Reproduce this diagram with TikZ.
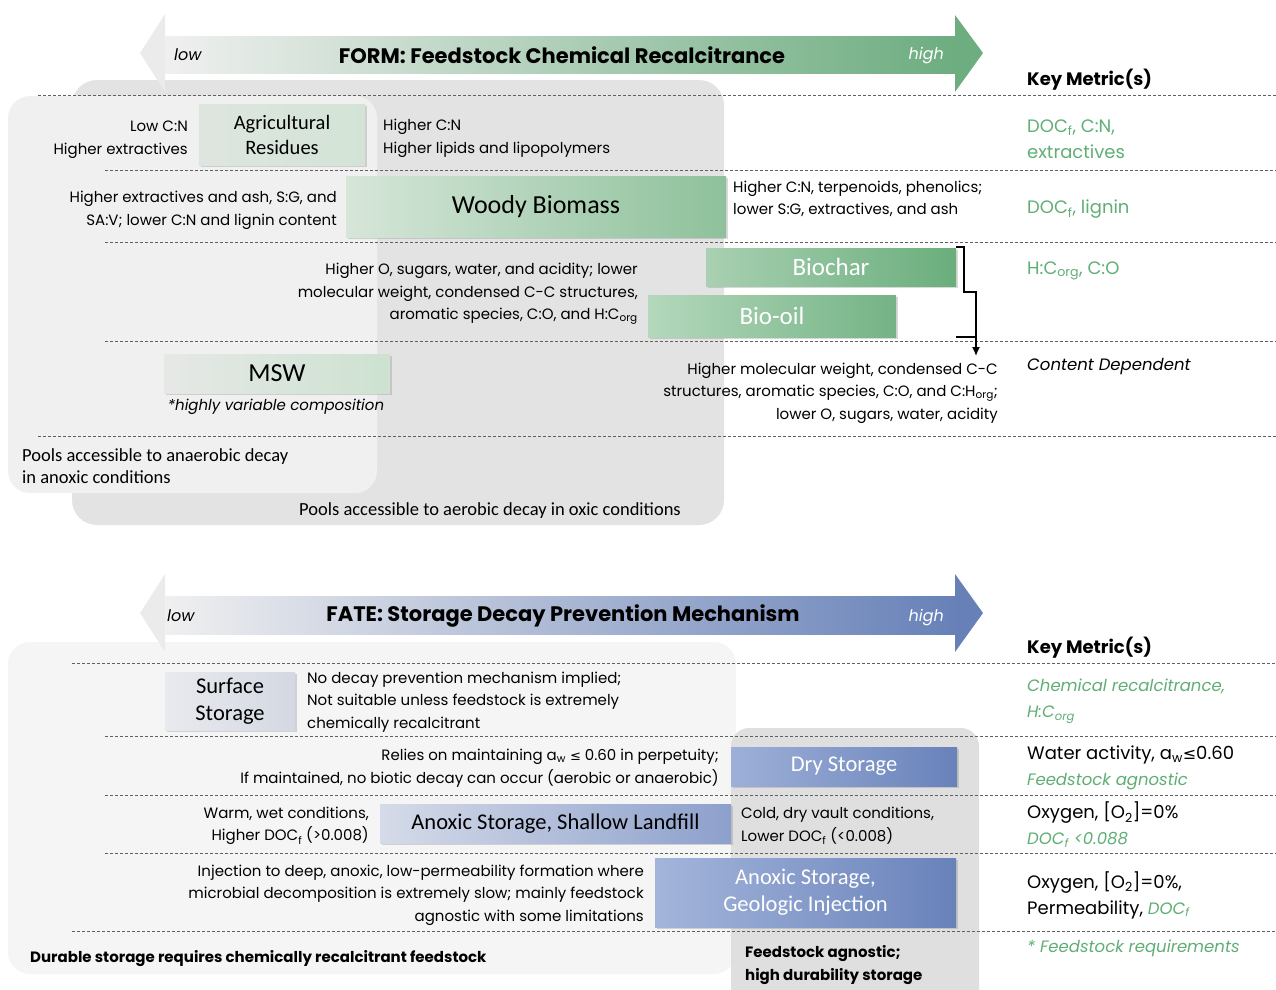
\documentclass[tikz,border=0pt]{standalone}
\usepackage{fontspec}
\setmainfont{Poppins}
\newfontfamily\calib{Carlito}
\newfontfamily\dv{DejaVu Sans}
\usetikzlibrary{shadows,arrows.meta}
\definecolor{kgreen}{HTML}{5FAE74}
\definecolor{agreen}{HTML}{6DAD80}
\definecolor{ablue}{HTML}{6781B8}
\definecolor{pdark}{HTML}{E3E3E3}
\definecolor{plight}{HTML}{F0F0F0}
\definecolor{bdark}{HTML}{DFDFDF}
\definecolor{blight}{HTML}{F5F5F5}
\definecolor{dashc}{HTML}{606060}
\definecolor{agl}{HTML}{DEE5DF}
\definecolor{agr}{HTML}{D3E4D6}
\definecolor{wdl}{HTML}{D6E6D9}
\definecolor{wdr}{HTML}{8EC19B}
\definecolor{bcl}{HTML}{A9D0B2}
\definecolor{bcr}{HTML}{6AAE7C}
\definecolor{bol}{HTML}{B4D8BC}
\definecolor{bor}{HTML}{74B385}
\definecolor{msl}{HTML}{E6E8E6}
\definecolor{msr}{HTML}{CDE2D1}
\definecolor{ssl}{HTML}{E9EAEE}
\definecolor{ssr}{HTML}{D3D8E2}
\definecolor{dsl}{HTML}{9EB0D8}
\definecolor{dsr}{HTML}{6882BA}
\definecolor{sll}{HTML}{D5DBE8}
\definecolor{slr}{HTML}{8DA0CC}
\definecolor{gil}{HTML}{A4B5DB}
\definecolor{gir}{HTML}{6882BA}
\newcommand{\bodyfont}{\fontsize{15}{22.5}\selectfont}
\newcommand{\keyfont}{\fontsize{18}{26}\selectfont}
\newcommand{\keyifont}{\fontsize{16.5}{26}\selectfont\itshape}
\newcommand{\sub}[1]{\textsubscript{#1}}
\tikzset{
 dline/.style={draw=dashc, line width=0.8pt, dash pattern=on 3pt off 2pt},
 box/.style={inner sep=0pt, align=center, drop shadow={opacity=0.3, shadow xshift=1.5pt, shadow yshift=-1.5pt}},
 txt/.style={inner sep=0pt, font=\bodyfont},
 ltxt/.style={txt, anchor=west, align=left},
 rtxt/.style={txt, anchor=east, align=right},
 key/.style={inner sep=0pt, anchor=west, align=left, font=\keyfont},
 keyi/.style={key, text=kgreen, font=\keyifont},
 pools/.style={inner sep=0pt, font=\calib\fontsize{18.5}{22.5}\selectfont},
 arrlbl/.style={inner sep=0pt, font=\fontsize{16}{20}\selectfont\itshape},
 arrtitle/.style={inner sep=0pt, font=\fontsize{21}{24}\selectfont\bfseries},
 bracketline/.style={line width=1.4pt, black},
}
\begin{document}
\begin{tikzpicture}[x=1pt,y=-1pt]
\useasboundingbox (0,0) rectangle (1276,989);

% ---------- panels (top) ----------
\fill[pdark, rounded corners=25pt] (72,80) rectangle (724,525);
\fill[plight, rounded corners=22pt] (8,96) rectangle (377,493);
% ---------- panels (bottom) ----------
\fill[blight, rounded corners=22pt] (8,642) rectangle (736,974);
\fill[bdark, rounded corners=18pt] (731,728) rectangle (979,1010);

% ---------- dashed separators ----------
\draw[dline] (38,95) -- (1276,95);
\draw[dline] (105,170) -- (1276,170);
\draw[dline] (105,242) -- (1276,242);
\draw[dline] (105,341) -- (1276,341);
\draw[dline] (38,436) -- (1276,436);
\draw[dline] (72,663) -- (1276,663);
\draw[dline] (105,736) -- (1276,736);
\draw[dline] (105,795) -- (1276,795);
\draw[dline] (105,853) -- (1276,853);
\draw[dline] (72,931) -- (1276,931);

% ---------- FORM arrow ----------
\fill[gray!16] (165,14) -- (140,53) -- (165,92) -- cycle;
\shade[left color=gray!12, right color=agreen] (165,36) rectangle (956,73);
\fill[agreen] (955,15) -- (983,53) -- (955,92) -- cycle;
\node[arrlbl, anchor=west] (flow) at (174,55) {low};
\node[arrlbl, anchor=east, text=white] (fhigh) at (944,56) {high};
\node[arrtitle] (ftitle) at (562,55) {FORM: Feedstock Chemical Recalcitrance};
\node[key, font=\keyfont\bfseries] (fkey) at (1027,80) {Key Metric(s)};

% ---------- FORM boxes ----------
\node[box, minimum width=166pt, minimum height=61pt, left color=agl, right color=agr,
  font=\calib\fontsize{20.5}{25}\selectfont] (agr) at (282,134.5) {Agricultural\\Residues};
\node[rtxt] (agrL) at (188,139.5) {Low C:N\\Higher extractives};
\node[ltxt] (agrR) at (383,138.5) {Higher C:N\\Higher lipids and lipopolymers};

\node[box, minimum width=380pt, minimum height=61pt, left color=wdl, right color=wdr,
  font=\calib\fontsize{26}{30}\selectfont] (woody) at (536,206.5) {Woody Biomass};
\node[rtxt] (woodyL) at (337,210.5) {Higher extractives and ash, S:G, and\\SA:V; lower C:N and lignin content};
\node[ltxt] (woodyR) at (733,199) {Higher C:N, terpenoids, phenolics;\\lower S:G, extractives, and ash};

\node[box, minimum width=250pt, minimum height=38pt, left color=bcl, right color=bcr,
  text=white, font=\calib\fontsize{25}{28}\selectfont] (biochar) at (831,267) {Biochar};
\node[box, minimum width=248pt, minimum height=42pt, left color=bol, right color=bor,
  text=white, font=\calib\fontsize{25}{28}\selectfont] (biooil) at (772,316) {Bio-oil};
\node[rtxt] (bioL) at (638,294) {Higher O, sugars, water, and acidity; lower\\molecular weight, condensed C-C structures,\\aromatic species, C:O, and H:C\sub{org}};
\node[rtxt] (bioR) at (998,393) {Higher molecular weight, condensed C-C\\structures, aromatic species, C:O, and C:H\sub{org};\\lower O, sugars, water, acidity};

\coordinate (b1) at (956,247);
\coordinate (b2) at (964,292);
\coordinate (b3) at (976,292);
\coordinate (b4) at (956,337);
\coordinate (btip) at (976,356);
\draw[bracketline] (b1) -| (b2) -- (b3) |- (b4);
\draw[bracketline, -{Latex[length=9pt,width=8pt]}] (b3) -- (btip);

\node[box, minimum width=226pt, minimum height=39pt, left color=msl, right color=msr,
  font=\calib\fontsize{26}{28}\selectfont] (msw) at (277,373.5) {MSW};
\node[txt, font=\bodyfont\itshape] (mswnote) at (276,407) {*highly variable composition};

\node[pools, anchor=west, align=left] (anaer) at (22,466) {Pools accessible to anaerobic decay\\in anoxic conditions};
\node[pools] (aer) at (490,511) {Pools accessible to aerobic decay in oxic conditions};

% ---------- FORM key metrics ----------
\node[key, text=kgreen] (k1) at (1027,139) {DOC\sub{f}, C:N,\\extractives};
\node[key, text=kgreen] (k2) at (1027,209) {DOC\sub{f}, lignin};
\node[key, text=kgreen] (k3) at (1027,271) {H:C\sub{org}, C:O};
\node[key, font=\keyifont] (k4) at (1027,367) {Content Dependent};

% ---------- FATE arrow ----------
\fill[gray!16] (165,574) -- (140,613) -- (165,652) -- cycle;
\shade[left color=gray!12, right color=ablue] (165,596) rectangle (956,634);
\fill[ablue] (955,574) -- (983,613) -- (955,652) -- cycle;
\node[arrlbl, anchor=west] (tlow) at (167,616) {low};
\node[arrlbl, anchor=east, text=white] (thigh) at (944,618) {high};
\node[arrtitle] (ttitle) at (563,616) {FATE: Storage Decay Prevention Mechanism};
\node[key, font=\keyfont\bfseries] (tkey) at (1027,648) {Key Metric(s)};

% ---------- FATE boxes ----------
\node[box, minimum width=130pt, minimum height=58pt, left color=ssl, right color=ssr,
  font=\calib\fontsize{22.5}{27}\selectfont] (surf) at (230,701) {Surface\\Storage};
\node[ltxt] (surfR) at (307,702) {No decay prevention mechanism implied;\\Not suitable unless feedstock is extremely\\chemically recalcitrant};

\node[box, minimum width=226pt, minimum height=39pt, left color=dsl, right color=dsr,
  text=white, font=\calib\fontsize{22.5}{26}\selectfont] (dry) at (844,766.5) {Dry Storage};
\node[rtxt] (dryL) at (719,768) {Relies on maintaining a\sub{w} {\dv\fontsize{13}{15}\selectfont ≤} 0.60 in perpetuity;\\If maintained, no biotic decay can occur (aerobic or anaerobic)};

\node[box, minimum width=351pt, minimum height=39pt, left color=sll, right color=slr,
  font=\calib\fontsize{22.5}{26}\selectfont] (shallow) at (555.5,823.5) {Anoxic Storage, Shallow Landfill};
\node[rtxt] (shallowL) at (369,826) {Warm, wet conditions,\\Higher DOC\sub{f} (>0.008)};
\node[ltxt] (shallowR) at (741,826) {Cold, dry vault conditions,\\Lower DOC\sub{f} (<0.008)};

\node[box, minimum width=301pt, minimum height=69pt, left color=gil, right color=gir,
  text=white, font=\calib\fontsize{22.5}{27}\selectfont] (geo) at (805.5,892.5) {Anoxic Storage,\\Geologic Injection};
\node[rtxt] (geoL) at (644,895) {Injection to deep, anoxic, low-permeability formation where\\microbial decomposition is extremely slow; mainly feedstock\\agnostic with some limitations};

\node[txt, anchor=west, font=\bodyfont\bfseries] (durable) at (30,959) {Durable storage requires chemically recalcitrant feedstock};
\node[ltxt, font=\bodyfont\bfseries] (agn) at (745,965) {Feedstock agnostic;\\high durability storage};

% ---------- FATE key metrics ----------
\node[keyi] (t1) at (1027,701) {Chemical recalcitrance,\\H:C\sub{org}};
\node[key] (t2) at (1027,755) {Water activity, a\sub{w}{\dv\fontsize{16}{18}\selectfont ≤}0.60};
\node[keyi] (t2b) at (1027,781) {Feedstock agnostic};
\node[key] (t3) at (1027,813) {Oxygen, [O\sub{2}]=0\%};
\node[keyi] (t3b) at (1027,840) {DOC\sub{f} <0.088};
\node[key] (t4) at (1027,895) {Oxygen, [O\sub{2}]=0\%,\\Permeability, {\color{kgreen}\keyifont DOC\sub{f}}};
\node[keyi] (t5) at (1027,948) {* Feedstock requirements};
\end{tikzpicture}
\end{document}
